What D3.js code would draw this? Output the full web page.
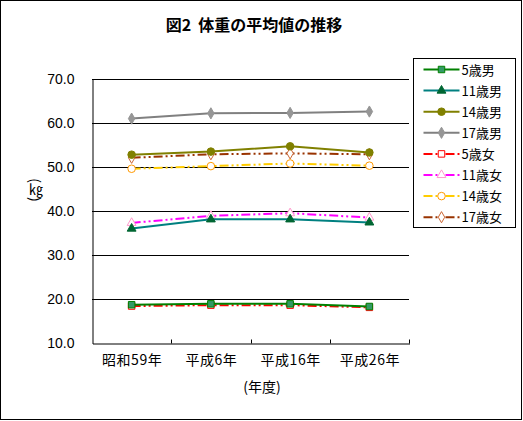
<!DOCTYPE html>
<html>
<head>
<meta charset="utf-8">
<script src="https://cdn.jsdelivr.net/npm/d3@7"></script>
<style>
  body { margin: 0; background: #fff; }
  text { font-family: "Noto Sans CJK JP", "DejaVu Sans", sans-serif; }
</style>
</head>
<body>
<div id="chart"></div>
<script>
var years = ['昭和59年', '平成6年', '平成16年', '平成26年'];
var yTicks = [10, 20, 30, 40, 50, 60, 70];

var boy5   = [18.7, 18.9, 18.9, 18.3];
var boy11  = [36.0, 38.1, 38.1, 37.4];
var boy14  = [52.8, 53.5, 54.7, 53.3];
var boy17  = [61.0, 62.2, 62.3, 62.6];
var girl5  = [18.4, 18.6, 18.6, 18.1];
var girl11 = [37.3, 38.9, 39.5, 38.5];
var girl14 = [49.6, 50.2, 50.8, 50.3];
var girl17 = [52.1, 52.9, 53.1, 52.9];

var series = [
  { name: '5歳男',  values: boy5,   line: '#008000', shape: 'square',   fill: '#339966', stroke: '#008000', dash: null },
  { name: '11歳男', values: boy11,  line: '#008080', shape: 'triangle', fill: '#006633', stroke: '#006633', dash: null },
  { name: '14歳男', values: boy14,  line: '#808000', shape: 'circle',   fill: '#808000', stroke: '#808000', dash: null },
  { name: '17歳男', values: boy17,  line: '#808080', shape: 'diamond',  fill: '#969696', stroke: '#969696', dash: null },
  { name: '5歳女',  values: girl5,  line: '#ff0000', shape: 'square',   fill: '#ffffff', stroke: '#ff0000', dash: '9,3,2,3,2,3' },
  { name: '11歳女', values: girl11, line: '#ff00ff', shape: 'triangle', fill: '#ffffff', stroke: '#ff99cc', dash: '9,3,2,3,2,3' },
  { name: '14歳女', values: girl14, line: '#ffcc00', shape: 'circle',   fill: '#ffffff', stroke: '#ff9900', dash: '9,3,2,3,2,3' },
  { name: '17歳女', values: girl17, line: '#993300', shape: 'diamond',  fill: '#ffffff', stroke: '#cc6633', dash: '9,3,2,3,2,3' }
];

var W = 523, H = 421;
var plot = { left: 92, right: 409, top: 79, bottom: 343 };

var svg = d3.select('#chart').append('svg')
  .attr('width', W)
  .attr('height', H);

svg.append('rect')
  .attr('x', 0.5).attr('y', 0.5)
  .attr('width', W - 2).attr('height', H - 2)
  .attr('fill', '#fff').attr('stroke', '#000');

svg.append('text')
  .attr('x', 254).attr('y', 31)
  .attr('text-anchor', 'middle')
  .style('font-size', '16px').style('font-weight', 'bold')
  .style('white-space', 'pre')
  .text('図2  体重の平均値の推移');

var x = d3.scaleBand().domain(years).range([plot.left, plot.right]);
var y = d3.scaleLinear().domain([10, 70]).range([plot.bottom, plot.top]);

// gridlines
svg.append('g').selectAll('line')
  .data(yTicks.slice(1))
  .enter().append('line')
  .attr('x1', plot.left).attr('x2', plot.right)
  .attr('y1', function(d) { return Math.round(y(d)) + 0.5; })
  .attr('y2', function(d) { return Math.round(y(d)) + 0.5; })
  .attr('stroke', '#000');

var yAxis = svg.append('g')
  .attr('transform', 'translate(' + (plot.left + 0.5) + ',0.5)')
  .call(d3.axisLeft(y).tickValues(yTicks).tickSize(0).tickPadding(18).tickFormat(d3.format('.1f')));
yAxis.select('.domain').attr('stroke', '#000');
yAxis.selectAll('text').style('font-size', '14px').style('font-family', '"Liberation Sans", Arial, sans-serif').attr('fill', '#000');

var xAxis = svg.append('g')
  .attr('transform', 'translate(0.5,' + (plot.bottom + 0.5) + ')')
  .call(d3.axisBottom(x).tickSize(0).tickPadding(12));
xAxis.select('.domain').attr('stroke', '#000');
xAxis.selectAll('text').style('font-size', '14px').style('letter-spacing', '0.5px').attr('fill', '#000');
// category boundary ticks
xAxis.append('g').selectAll('line')
  .data(years)
  .enter().append('line')
  .attr('x1', function(d) { return Math.round(x(d) + x.bandwidth()); })
  .attr('x2', function(d) { return Math.round(x(d) + x.bandwidth()); })
  .attr('y1', 0).attr('y2', -4)
  .attr('stroke', '#000');

svg.append('text')
  .attr('x', 262).attr('y', 392)
  .attr('text-anchor', 'middle')
  .style('font-size', '14px')
  .text('(年度)');

svg.append('text')
  .attr('x', 36).attr('y', 190)
  .attr('text-anchor', 'middle')
  .style('writing-mode', 'vertical-rl')
  .style('font-size', '14px')
  .text('(㎏)');

var sym = {
  square: d3.symbolSquare,
  triangle: d3.symbolTriangle,
  circle: d3.symbolCircle,
  diamond: d3.symbolDiamond
};
var symSize = { square: 42, triangle: 34, circle: 45, diamond: 36 };

function cx(i) { return x(years[i]) + x.bandwidth() / 2; }

var line = d3.line()
  .x(function(d, i) { return cx(i); })
  .y(function(d) { return y(d); });

var order = [4, 5, 6, 7, 0, 1, 2, 3];
order.forEach(function(k) {
  var s = series[k];
  var g = svg.append('g');
  g.append('path')
    .attr('d', line(s.values))
    .attr('fill', 'none')
    .attr('stroke', s.line)
    .attr('stroke-width', 2)
    .attr('stroke-dasharray', s.dash);
  g.selectAll('path.m')
    .data(s.values)
    .enter().append('path')
    .attr('class', 'm')
    .attr('transform', function(d, i) { return 'translate(' + cx(i) + ',' + y(d) + ')'; })
    .attr('d', d3.symbol().type(sym[s.shape]).size(symSize[s.shape]))
    .attr('fill', s.fill)
    .attr('stroke', s.stroke)
    .attr('stroke-width', 1);
});

// legend
var lg = svg.append('g').attr('transform', 'translate(413.5,58.5)');
lg.append('rect')
  .attr('width', 102).attr('height', 169)
  .attr('fill', '#fff').attr('stroke', '#000');
var item = lg.selectAll('g.item')
  .data(series)
  .enter().append('g')
  .attr('class', 'item')
  .attr('transform', function(d, i) { return 'translate(0,' + (11 + i * 21.1) + ')'; });
item.append('line')
  .attr('x1', 10).attr('x2', 46)
  .attr('stroke', function(d) { return d.line; })
  .attr('stroke-width', 2)
  .attr('stroke-dasharray', function(d) { return d.dash ? '9,3,2,3,2,3' : null; });
item.append('path')
  .attr('transform', 'translate(28,0)')
  .attr('d', function(d) { return d3.symbol().type(sym[d.shape]).size(symSize[d.shape])(); })
  .attr('fill', function(d) { return d.fill; })
  .attr('stroke', function(d) { return d.stroke; });
item.append('text')
  .attr('x', 48).attr('y', 5)
  .style('font-size', '13px')
  .text(function(d) { return d.name; });
</script>
</body>
</html>
